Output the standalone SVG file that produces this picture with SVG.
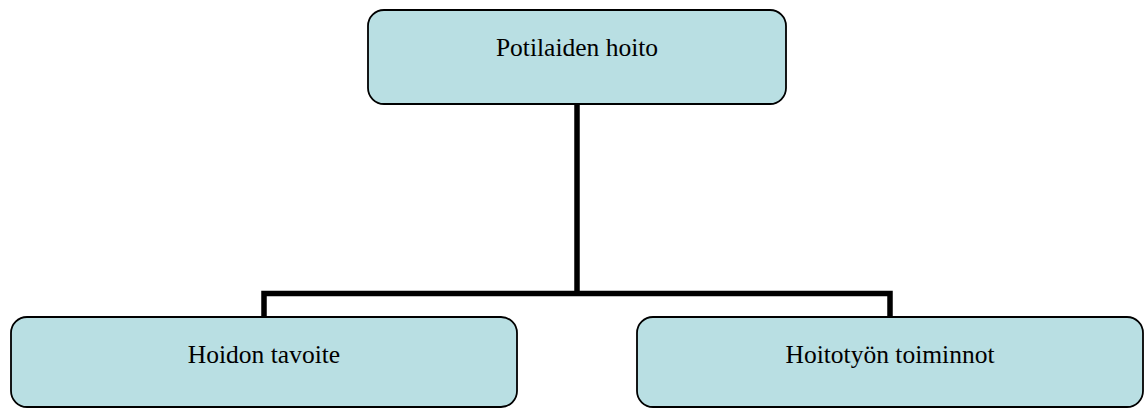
<svg xmlns="http://www.w3.org/2000/svg" width="1146" height="410" viewBox="0 0 1146 410">
<style>
.box{fill:#B9DFE3;stroke:#000;stroke-width:1.8}
.lbl{font-family:"Liberation Serif","Times New Roman",serif;font-size:25.5px;fill:#000;text-anchor:middle}
.conn{fill:none;stroke:#000;stroke-width:5.5;stroke-linejoin:miter}
</style>
<rect width="1146" height="410" fill="#fff"/>
<g id="connectors">
<path class="conn" d="M577,104 V293.5"/>
<path class="conn" d="M264,317 V293.5 H890 V317"/>
</g>
<g id="node-top">
<rect class="box" x="368" y="10" width="418" height="94" rx="16" ry="16"/>
<text class="lbl" x="577" y="56">Potilaiden hoito</text>
</g>
<g id="node-left">
<rect class="box" x="11" y="317" width="506" height="90" rx="16" ry="16"/>
<text class="lbl" x="264" y="363">Hoidon tavoite</text>
</g>
<g id="node-right">
<rect class="box" x="637" y="317" width="506" height="90" rx="16" ry="16"/>
<text class="lbl" x="890" y="363">Hoitotyön toiminnot</text>
</g>
</svg>
